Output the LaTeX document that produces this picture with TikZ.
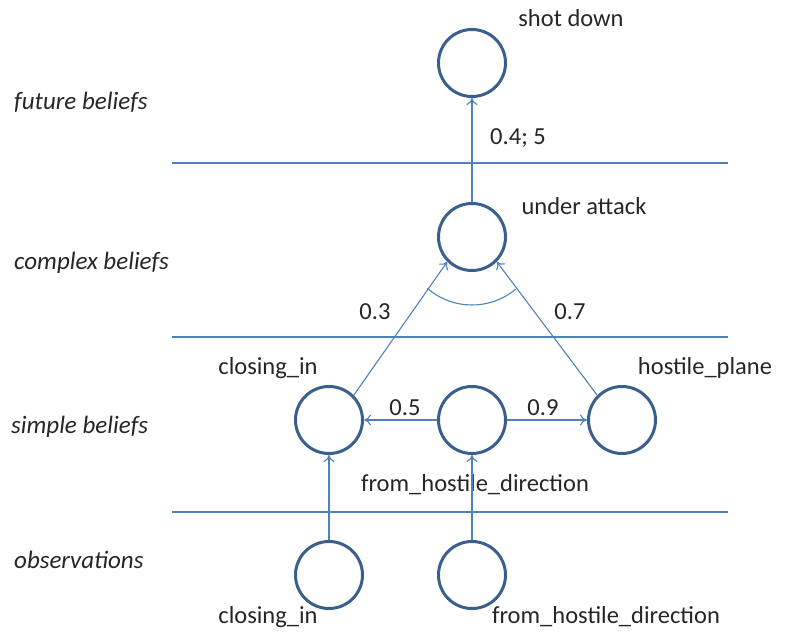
\documentclass[tikz,border=0pt]{standalone}
\usepackage{fontspec}
\setmainfont{Carlito}
\usetikzlibrary{arrows.meta}
\definecolor{ringblue}{HTML}{3A5F8C}
\definecolor{lineblue}{HTML}{4F81BD}
\definecolor{textgray}{HTML}{262626}
\begin{document}
\begin{tikzpicture}[x=1pt,y=1pt,
    belief/.style={circle,draw=ringblue,line width=3pt,minimum size=67pt,inner sep=0pt},
    layer/.style={draw=lineblue,line width=1.8pt},
    link/.style={draw=lineblue,line width=1.1pt,-{To[length=7pt,width=11pt]}},
    txt/.style={text=textgray,font=\fontsize{24.5}{28}\selectfont,inner sep=0pt},
    lvl/.style={txt,font=\fontsize{25}{28}\selectfont\itshape,anchor=west}]
        \useasboundingbox (0,0) rectangle (787,-634);
        % layers
        \coordinate (l1w) at (172,-163); \coordinate (l1e) at (728,-163);
        \coordinate (l2w) at (172,-337); \coordinate (l2e) at (728,-337);
        \coordinate (l3w) at (172,-512); \coordinate (l3e) at (728,-512);
        \draw[layer] (l1w) -- (l1e);
        \draw[layer] (l2w) -- (l2e);
        \draw[layer] (l3w) -- (l3e);
        \node[lvl] (futlbl) at (14,-102) {future beliefs};
        \node[lvl] (cpxlbl) at (14,-263) {complex beliefs};
        \node[lvl] (smplbl) at (11,-427) {simple beliefs};
        \node[lvl] (obslbl) at (14,-560) {observations};
        % beliefs
        \node[belief] (shot) at (472,-63) {};
        \node[belief] (attack) at (472,-237) {};
        \node[belief] (closing) at (329,-420) {};
        \node[belief] (hostdir) at (472,-420) {};
        \node[belief] (plane) at (622,-420) {};
        \node[belief] (obsclose) at (329,-575) {};
        \node[belief] (obsdir) at (472,-575) {};
        \node[txt] (shotlbl) at (571,-18) {shot down};
        \node[txt] (attacklbl) at (584,-206) {under attack};
        \node[txt] (closinglbl) at (268,-368) {closing\_in};
        \node[txt] (planelbl) at (705,-368) {hostile\_plane};
        \node[txt] (hostdirlbl) at (475,-485) {from\_hostile\_direction};
        \node[txt] (obscloselbl) at (268,-617) {closing\_in};
        \node[txt] (obsdirlbl) at (606,-617) {from\_hostile\_direction};
        % links
        \draw[link] (attack.north) -- (shot.south);
        \draw[link] (closing.45) -- (attack.-135);
        \draw[link] (plane.135) -- (attack.-45);
        \draw[link] (hostdir.west) -- (closing.east);
        \draw[link] (hostdir.east) -- (plane.west);
        \draw[link] (obsclose.north) -- (closing.south);
        \draw[link] (obsdir.north) -- (hostdir.south);
        \draw[draw=lineblue,line width=1.1pt] (attack.center) ++(-131:68) arc[start angle=-131,end angle=-50,radius=68];
        \node[txt] (w1) at (518,-138) {0.4; 5};
        \node[txt] (w2) at (375,-312) {0.3};
        \node[txt] (w3) at (570,-312) {0.7};
        \node[txt] (w4) at (405,-408) {0.5};
        \node[txt] (w5) at (543,-408) {0.9};
\end{tikzpicture}
\end{document}
